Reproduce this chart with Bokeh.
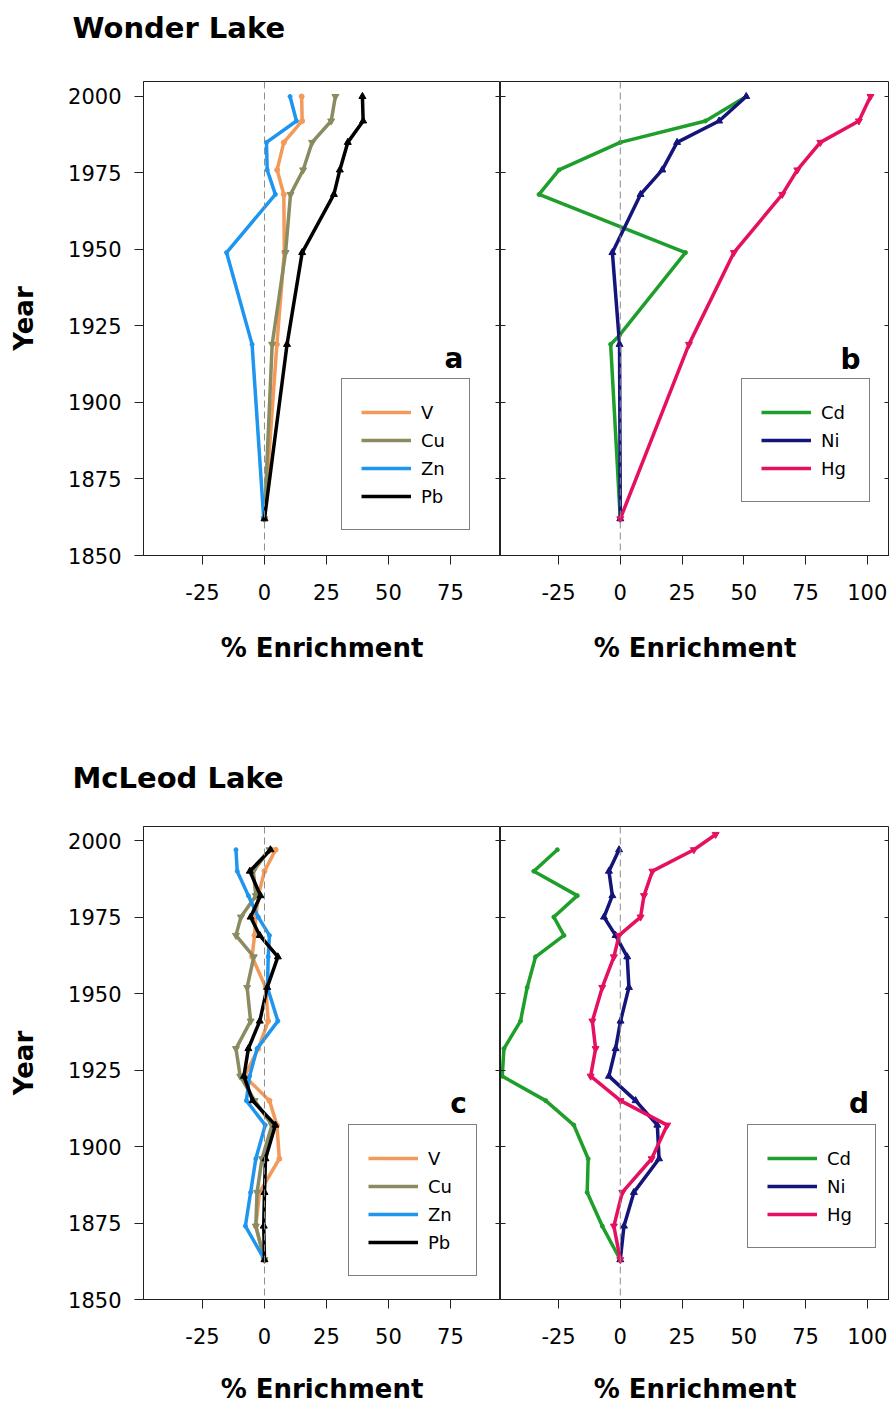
from bokeh.plotting import figure
from bokeh.models import Span, Legend, LegendItem, LinearAxis, FixedTicker, Label, Range1d, Title
from bokeh.layouts import row, column
from bokeh.embed import file_html
from bokeh.resources import INLINE

# ---------------- data ----------------
year_ticks = [1850, 1875, 1900, 1925, 1950, 1975, 2000]
x_ticks_left = [-25, 0, 25, 50, 75]
x_ticks_right = [-25, 0, 25, 50, 75, 100]

# Wonder Lake
years_wonder = [2000, 1992, 1985, 1976, 1968, 1949, 1919, 1862]
wonder_V = [15, 15.2, 7.8, 5.1, 7.8, 8.0, 5.0, 0]
wonder_Cu = [28.6, 26.9, 19.2, 15.6, 10.5, 8.5, 3.1, 0]
wonder_Zn = [10.3, 12.9, 0.8, 1.1, 4.4, -15.3, -5.0, -0.3]
wonder_Pb = [39.5, 39.8, 33.6, 30.4, 28.0, 15.2, 9.1, 0]
years_wonder_cd = [2000, 1992, 1985, 1976, 1968, 1949, 1922, 1919, 1862]
wonder_Cd = [51, 34.5, 0, -24.8, -32.9, 26.4, -0.3, -3.9, 0]
wonder_Ni = [51, 40, 23, 17, 8.2, -3.2, -0.3, 0]
wonder_Hg = [101.3, 96.6, 81, 71.7, 65.6, 46, 27.8, 0]

# McLeod Lake
years_mcleod = [1997, 1990, 1982, 1975, 1969, 1962, 1952, 1941, 1932, 1923, 1915, 1907, 1896, 1885, 1874, 1863]
mcleod_V = [4.5, 0, -2.5, -3.5, -4, -5, 0.5, 1.5, -2.5, -8, 2, 5, 6, -2, -3.5, 0]
mcleod_Cu = [2, -4.5, -3.5, -9.5, -11.5, -4.3, -7, -5.6, -11.5, -9.8, -4, 3, -1, -3, -3.5, 0]
mcleod_Zn = [-11.5, -11, -6.5, -2.5, 2, 1.5, 1.2, 5.4, -3, -6, -7.3, 0.3, -3.5, -5.6, -7.7, 0]
mcleod_Pb = [2.4, -5.9, -1.6, -5.6, -1.9, 5.4, 1.1, -1.9, -6.5, -8.3, -4.8, 4.4, 0.4, 0, -0.3, 0]
mcleod_Cd = [-25.5, -35, -17.4, -26.9, -22.8, -34.3, -37.7, -40.4, -47.1, -47.8, -30.2, -18.8, -13, -13.4, -7.3, 0]
mcleod_Ni = [-0.5, -4.6, -3.2, -6.6, -1.9, 2.8, 3.5, 0.1, -1.9, -4.6, 6.2, 15, 15.7, 5.5, 1.5, 0]
years_mcleod_hg = [2002, 1997, 1990, 1982, 1975, 1969, 1962, 1952, 1941, 1932, 1923, 1915, 1907, 1896, 1885, 1874, 1863]
mcleod_Hg = [38.6, 29.8, 13, 9.6, 8.2, -0.5, -2.6, -7.3, -11.3, -10, -12, 0.1, 19, 12.7, 0.8, -2.6, 0]

# ---------------- styles ----------------
FONT = "DejaVu Sans"
AX = "#222222"
STYLE = {
    "V": dict(color="#F39A5A", marker="circle", size=5),
    "Cu": dict(color="#8B8B62", marker="inverted_triangle", size=7),
    "Zn": dict(color="#1E96F0", marker="circle", size=4),
    "Pb": dict(color="#000000", marker="triangle", size=7),
    "Cd": dict(color="#1E9E2A", marker="circle", size=4),
    "Ni": dict(color="#14147A", marker="triangle", size=7),
    "Hg": dict(color="#E5105F", marker="inverted_triangle", size=7),
}


def hidden_axis(axis):
    axis.major_tick_out = 0
    axis.major_tick_in = 5
    axis.major_label_text_font_size = "1px"
    axis.major_label_text_color = None
    axis.major_label_standoff = 0
    axis.minor_tick_line_color = None
    axis.axis_line_color = AX
    axis.major_tick_line_color = AX


def make_fig(width, height, xr, yr, mb, left_labels, xticks, label_standoff):
    p = figure(width=width, height=height, x_range=Range1d(*xr), y_range=Range1d(*yr),
               output_backend="svg", toolbar_location=None, title=None,
               min_border_left=mb[0], min_border_right=mb[1],
               min_border_top=mb[2], min_border_bottom=mb[3])
    p.grid.visible = False
    p.outline_line_color = AX
    p.outline_line_width = 1
    p.background_fill_color = "white"
    p.border_fill_color = "white"

    xa = p.xaxis[0]
    xa.ticker = FixedTicker(ticks=xticks)
    xa.major_label_overrides = {t: str(t) for t in xticks}
    xa.major_tick_out = 9
    xa.major_tick_in = 0
    xa.minor_tick_line_color = None
    xa.axis_line_color = AX
    xa.major_tick_line_color = AX
    xa.major_label_text_font = FONT
    xa.major_label_text_font_size = "21px"
    xa.major_label_text_color = "black"
    xa.major_label_standoff = 19
    xa.axis_label = "% Enrichment"
    xa.axis_label_text_font = FONT
    xa.axis_label_text_font_style = "bold"
    xa.axis_label_text_font_size = "26px"
    xa.axis_label_text_color = "black"
    xa.axis_label_standoff = label_standoff

    ya = p.yaxis[0]
    ya.ticker = FixedTicker(ticks=year_ticks)
    if left_labels:
        ya.minor_tick_line_color = None
        ya.axis_line_color = AX
        ya.major_tick_line_color = AX
        ya.major_tick_out = 9
        ya.major_tick_in = 0
        ya.major_label_text_font = FONT
        ya.major_label_text_font_size = "21px"
        ya.major_label_text_color = "black"
        ya.major_label_standoff = 13
        ya.axis_label = "Year"
        ya.axis_label_text_font = FONT
        ya.axis_label_text_font_style = "bold"
        ya.axis_label_text_font_size = "26px"
        ya.axis_label_text_color = "black"
        ya.axis_label_standoff = 26
    else:
        hidden_axis(ya)

    ra = LinearAxis(ticker=FixedTicker(ticks=year_ticks))
    hidden_axis(ra)
    p.add_layout(ra, "right")

    p.add_layout(Span(location=0, dimension="height", line_color="#8C8C8C",
                      line_dash="7 4", line_width=1))
    return p


def add_title(p, text, gap):
    # invisible spacer axis between the frame and the title
    sp = LinearAxis(ticker=FixedTicker(ticks=[0]), major_tick_out=gap, major_tick_in=0,
                    major_label_standoff=0, major_label_text_font_size="1px",
                    major_label_text_color=None, axis_line_color=None,
                    major_tick_line_color="white", major_tick_line_alpha=0,
                    minor_tick_line_color=None)
    p.add_layout(sp, "above")
    t = Title(text=text, text_font=FONT, text_font_style="bold", text_font_size="29px",
              text_color="black", align="left", offset=-71, standoff=0)
    p.add_layout(t, "above")


def add_series(p, years, vals, name):
    st = STYLE[name]
    ln = p.line(x=vals, y=years, line_color=st["color"], line_width=3.5)
    p.scatter(x=vals, y=years, marker=st["marker"], size=st["size"],
              fill_color=st["color"], line_color=st["color"])
    return LegendItem(label=name, renderers=[ln])


def add_legend(p, items, loc):
    lg = Legend(items=items, location=loc, orientation="vertical",
                label_text_font=FONT, label_text_font_size="18px", label_text_color="black",
                glyph_width=50, glyph_height=28, label_height=28, label_width=29,
                label_standoff=10, padding=19, spacing=0, margin=0,
                border_line_color="black", border_line_width=1,
                background_fill_color="white", background_fill_alpha=1)
    p.add_layout(lg)


def add_letter(p, x, y, t):
    p.add_layout(Label(x=x, y=y, text=t, text_font=FONT, text_font_style="bold",
                       text_font_size="28px", text_color="black",
                       text_align="center", text_baseline="alphabetic"))


# ---------------- Wonder Lake ----------------
pa = make_fig(500, 700, (-48.8, 95.2), (1850, 2004.9), (143, 0, 81, 145), True, x_ticks_left, 30)
add_title(pa, "Wonder Lake", 37)
items = [add_series(pa, years_wonder, wonder_V, "V"),
         add_series(pa, years_wonder, wonder_Cu, "Cu"),
         add_series(pa, years_wonder, wonder_Zn, "Zn"),
         add_series(pa, years_wonder, wonder_Pb, "Pb")]
add_legend(pa, items, (198, 25))
add_letter(pa, 76.4, 1914.4, "a")

pb = make_fig(389, 700, (-48.5, 109.0), (1850, 2004.9), (0, 0, 81, 145), False, x_ticks_right, 30)
items = [add_series(pb, years_wonder_cd, wonder_Cd, "Cd"),
         add_series(pb, years_wonder, wonder_Ni, "Ni"),
         add_series(pb, years_wonder, wonder_Hg, "Hg")]
add_legend(pb, items, (241, 53))
add_letter(pb, 93.2, 1914.1, "b")

# ---------------- McLeod Lake ----------------
pc = make_fig(500, 706, (-48.8, 95.2), (1850, 2004.6), (143, 0, 126, 105), True, x_ticks_left, 27)
add_title(pc, "McLeod Lake", 32)
items = [add_series(pc, years_mcleod, mcleod_V, "V"),
         add_series(pc, years_mcleod, mcleod_Cu, "Cu"),
         add_series(pc, years_mcleod, mcleod_Zn, "Zn"),
         add_series(pc, years_mcleod, mcleod_Pb, "Pb")]
add_legend(pc, items, (205, 23))
add_letter(pc, 78.3, 1914.0, "c")

pd_ = make_fig(389, 706, (-48.5, 109.0), (1850, 2004.6), (0, 0, 126, 105), False, x_ticks_right, 27)
items = [add_series(pd_, years_mcleod, mcleod_Cd, "Cd"),
         add_series(pd_, years_mcleod, mcleod_Ni, "Ni"),
         add_series(pd_, years_mcleod_hg, mcleod_Hg, "Hg")]
add_legend(pd_, items, (247, 51))
add_letter(pd_, 96.7, 1914.1, "d")

layout = column(row(pa, pb), row(pc, pd_))
open("out.html", "w").write(file_html(layout, INLINE))
